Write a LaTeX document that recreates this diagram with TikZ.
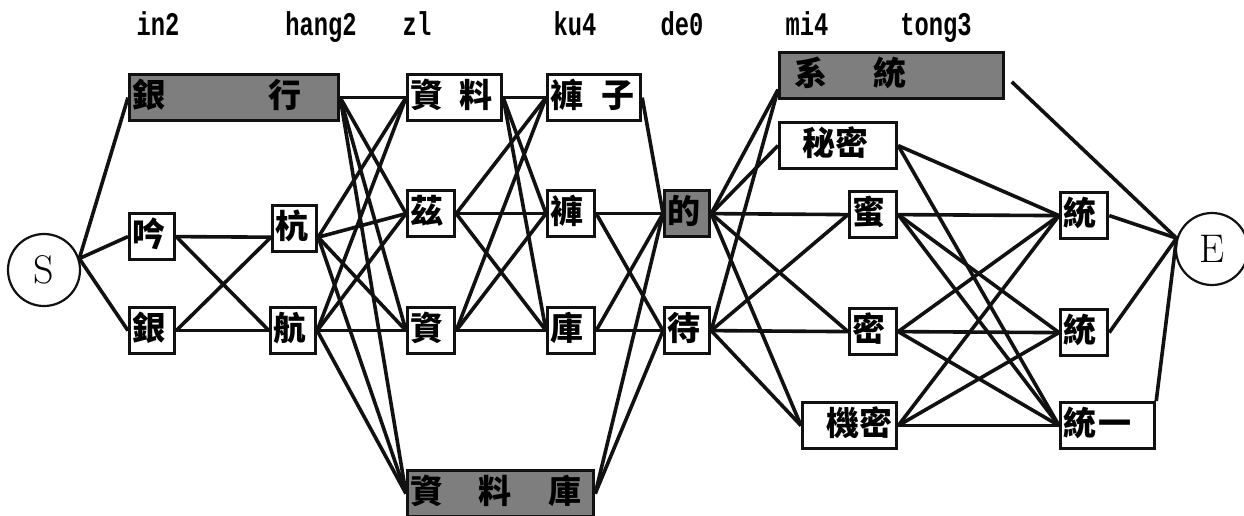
\documentclass[tikz,border=0pt]{standalone}
\usepackage{fontspec}
\usepackage{tikz}
\newfontfamily\cjkfont{Noto Sans CJK TC}
\newfontfamily\labfont[FakeStretch=0.72]{Liberation Mono}
\definecolor{LatticeInk}{HTML}{111111}
\definecolor{LatticeShade}{HTML}{7E7E7E}

\begin{document}
\begin{tikzpicture}[x=1pt,y=-1pt,
    box/.style={draw=LatticeInk,line width=3.2pt,anchor=north west,inner sep=3pt,align=left,
      text height=30pt,text depth=10pt,font=\cjkfont\bfseries\fontsize{33}{34}\selectfont},
    gbox/.style={box,fill=LatticeShade},
    ring/.style={circle,draw=LatticeInk,line width=2.2pt,minimum size=72pt,inner sep=0pt,
      font=\fontsize{40}{40}\selectfont},
    link/.style={draw=LatticeInk,line width=3.6pt},
    collab/.style={anchor=base,font=\labfont\bfseries\fontsize{33}{33}\selectfont}]
    \useasboundingbox (0,0) rectangle (1244,515);

    \foreach \x/\lab in {158/in2,321/hang2,417/zl,575/ku4,682/de0,807/mi4,936/tong3}
      \node[collab] (lab-\lab) at (\x,35) {\lab};

    \node[ring] (S) at (44,270) {S};
    \node[ring] (E) at (1212,249) {E};

    \node[gbox,text width=203pt] (yinhang) at (128,73) {銀\hspace{103pt}行};
    \node[box,text width=39pt] (yin) at (128,212) {吟};
    \node[box,text width=39pt] (yinB) at (128,306) {銀};
    \node[box,text width=38pt] (hangA) at (271,204) {杭};
    \node[box,text width=39pt] (hangB) at (269,306) {航};

    \node[box,text width=88pt] (ziliao) at (406,73) {資\hspace{16pt}料};
    \node[box,text width=41pt] (zi) at (406,189) {茲};
    \node[box,text width=41pt] (ziB) at (406,306) {資};
    \node[gbox,text width=180pt] (zlku) at (406,469) {資\hspace{35pt}料\hspace{37pt}庫};

    \node[box,text width=87pt] (kuzi) at (546,73) {褲\hspace{18pt}子};
    \node[box,text width=41pt] (kuA) at (546,189) {褲};
    \node[box,text width=41pt] (kuB) at (546,306) {庫};

    \node[gbox,text width=39pt] (de) at (663,189) {的};
    \node[box,text width=39pt] (dai) at (663,306) {待};

    \node[gbox,text width=218pt] (xitong) at (778,51) {\hspace*{12pt}系\hspace{46pt}統};
    \node[box,text width=111pt] (mimi) at (778,121) {\hspace*{20pt}秘密};
    \node[box,text width=41pt] (miA) at (848,190) {蜜};
    \node[box,text width=41pt] (miB) at (848,307) {密};
    \node[box,text width=88pt] (jimi) at (801,401) {\hspace*{21pt}機密};

    \node[box,text width=41pt] (tongA) at (1059,191) {統};
    \node[box,text width=41pt] (tongB) at (1059,308) {統};
    \node[box,text width=88pt] (tongyi) at (1059,401) {統\hspace{2pt}一};

    \coordinate (xitong-in) at ([yshift=-14pt]xitong.west);

    \foreach \t in {yinhang.west,yin.west,yinB.west}
      \draw[link] (S.18) -- (\t);
    \foreach \s in {yin.east,yinB.east}
      \foreach \t in {hangA.200,hangB.west}
        \draw[link] (\s) -- (\t);
    \foreach \s in {yinhang.east,hangA.-20,hangB.east}
      \foreach \t in {ziliao.west,zi.west,ziB.west,zlku.west}
        \draw[link] (\s) -- (\t);
    \foreach \s in {ziliao.east,zi.east,ziB.east}
      \foreach \t in {kuzi.west,kuA.west,kuB.west}
        \draw[link] (\s) -- (\t);
    \foreach \s in {zlku.east,kuA.east,kuB.east}
      \foreach \t in {de.west,dai.west}
        \draw[link] (\s) -- (\t);
    \draw[link] (kuzi.east) -- (de.west);
    \foreach \t in {xitong-in,mimi.west,miA.west,miB.west,jimi.west}
      \draw[link] (de.east) -- (\t);
    \foreach \t in {xitong-in,miA.west,miB.west,jimi.west}
      \draw[link] (dai.east) -- (\t);
    \foreach \t in {tongA.west,tongyi.west}
      \draw[link] (mimi.east) -- (\t);
    \foreach \s in {miA.east,miB.east,jimi.east}
      \foreach \t in {tongA.west,tongB.west,tongyi.west}
        \draw[link] (\s) -- (\t);
    \foreach \s in {tongA.east,tongB.east,tongyi.north east}
      \draw[link] (\s) -- (E.163);
    \draw[link,shorten <=9pt] (xitong.east) -- (E.163);
  \end{tikzpicture}
\end{document}
